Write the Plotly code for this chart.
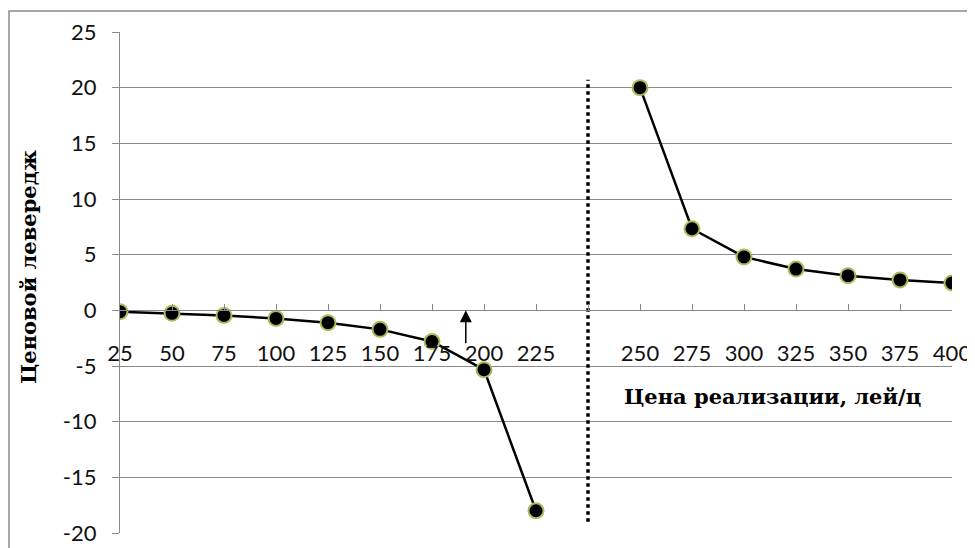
import plotly.graph_objects as go

# Categories (price, lei/q); the blank slot marks the break-even price
categories = ["25", "50", "75", "100", "125", "150", "175", "200", "225", "",
              "250", "275", "300", "325", "350", "375", "400"]
# Price leverage values (None = no point in that slot)
leverage = [-0.12, -0.27, -0.46, -0.73, -1.11, -1.71, -2.8, -5.33, -18.0, None,
            20.0, 7.33, 4.8, 3.71, 3.11, 2.73, 2.46]
y_ticks = [-20, -15, -10, -5, 0, 5, 10, 15, 20, 25]
y_tick_labels = ["-20", "-15", "-10", "-5", "0", "5", "10", "15", "20", "25"]
breakeven_line = [-19.0, 20.7]      # extent of dotted separator (y values)
arrow_pos = [6.65, -3.1, 0.0]       # x slot, y start, y end

idx = list(range(len(categories)))
sep_slot = categories.index("")

left_x = [i for i in idx if i < sep_slot]
right_x = [i for i in idx if i > sep_slot]

fig = go.Figure()
marker = dict(size=15, color="black", line=dict(color="#a9bd5c", width=2))
for xs in (left_x, right_x):
    fig.add_trace(go.Scatter(
        x=xs, y=[leverage[i] for i in xs], mode="lines+markers",
        line=dict(color="black", width=2.5), marker=marker,
        showlegend=False, hoverinfo="skip"))

# dotted vertical separator
fig.add_trace(go.Scatter(
    x=[sep_slot, sep_slot], y=breakeven_line, mode="lines",
    line=dict(color="black", width=3.5, dash="dot"),
    showlegend=False, hoverinfo="skip"))

ymin, ymax = y_ticks[0], y_ticks[-1]
zero_frac = (0 - ymin) / (ymax - ymin)

tickfont = dict(family="Lato", size=22, color="#111111")
titlefont = dict(family="DejaVu Serif", size=21, color="black")

fig.update_layout(
    width=967, height=540,
    margin=dict(l=112, r=23, t=24, b=15),
    paper_bgcolor="white", plot_bgcolor="white",
    xaxis=dict(
        range=[0, len(categories) - 1],
        tickvals=idx, ticktext=categories,
        showgrid=False, zeroline=False, automargin=False,
        showline=True, linecolor="#888888", linewidth=1.2,
        ticks="inside", ticklen=6, tickcolor="#888888",
        tickfont=tickfont, ticklabelstandoff=23,
        anchor="free", position=zero_frac,
    ),
    yaxis=dict(
        range=[ymin, ymax], tickvals=y_ticks, ticktext=y_tick_labels,
        showgrid=True, gridcolor="#8a8a8a", gridwidth=1.2,
        zeroline=False, automargin=False,
        showline=True, linecolor="#8a8a8a", linewidth=1.2,
        ticks="outside", ticklen=7, tickcolor="#8a8a8a",
        tickfont=tickfont, ticklabelstandoff=11,
    ),
)

fig.add_annotation(
    x=arrow_pos[0], y=arrow_pos[2], ax=arrow_pos[0], ay=arrow_pos[1],
    xref="x", yref="y", axref="x", ayref="y",
    showarrow=True, arrowhead=2, arrowsize=1.6, arrowwidth=1.5,
    arrowcolor="black", text="")

fig.add_annotation(
    text="<b>Ценовой левередж</b>", textangle=-90,
    xref="paper", yref="paper", x=(28 - 120) / 832, y=(533 - 267) / 501,
    showarrow=False, font=titlefont, xanchor="center", yanchor="middle")

fig.add_annotation(
    text="<b>Цена реализации, лей/ц</b>",
    xref="paper", yref="paper", x=(772 - 120) / 832, y=(533 - 397) / 501,
    showarrow=False, font=titlefont, xanchor="center", yanchor="middle")

# outer frame
fig.add_shape(type="rect", xref="paper", yref="paper",
              x0=(9 - 120) / 832, x1=(990 - 120) / 832,
              y0=-0.06, y1=1 + 21 / 501,
              line=dict(color="#8a8a8a", width=1.5), layer="below")

fig.write_html("out.html")
